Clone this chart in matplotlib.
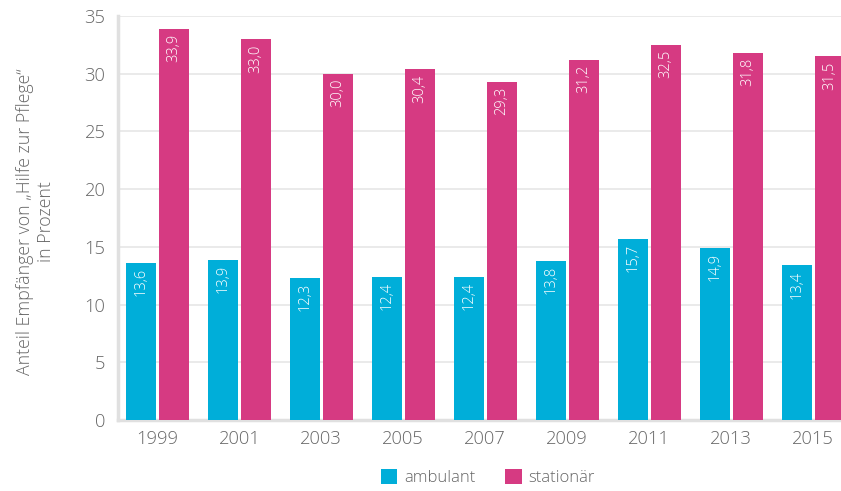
import matplotlib
matplotlib.use('Agg')
import matplotlib.pyplot as plt
import numpy as np

years = ['1999', '2001', '2003', '2005', '2007', '2009', '2011', '2013', '2015']
ambulant = [13.6, 13.9, 12.3, 12.4, 12.4, 13.8, 15.7, 14.9, 13.4]
stationaer = [33.9, 33.0, 30.0, 30.4, 29.3, 31.2, 32.5, 31.8, 31.5]

plt.rcParams['font.family'] = ['Open Sans', 'DejaVu Sans']
plt.rcParams['font.weight'] = 'light'
grey = '#666666'

fig = plt.figure(figsize=(8.41, 4.91), dpi=100)
ax = fig.add_axes([0.1403, 0.1446, 0.8597, 0.8228])

x = np.arange(len(years))
w = 0.366
off = 0.2
b1 = ax.bar(x - off, ambulant, w, color='#00AED9', label='ambulant', zorder=3)
b2 = ax.bar(x + off, stationaer, w, color='#D63A82', label='stationär', zorder=3)

for bars in (b1, b2):
    for b in bars:
        v = b.get_height()
        ax.text(b.get_x() + b.get_width() / 2, v - 0.45, f'{v:.1f}'.replace('.', ','),
                rotation=90, ha='center', va='top', color='white', fontsize=10.5, zorder=4)

ax.set_ylim(0, 35)
ax.set_xlim(-0.48, 8.34)
ax.set_yticks(range(0, 36, 5))
ax.set_xticks(x)
ax.set_xticklabels(years)
ax.tick_params(length=0, labelsize=13.2, colors=grey, pad=7)
ax.tick_params(axis='y', pad=9)
ax.grid(axis='y', color='#e6e6e6', linewidth=1.2, zorder=0)
for s in ('top', 'right'):
    ax.spines[s].set_visible(False)
for s in ('left', 'bottom'):
    ax.spines[s].set_color('#e0e0e0')
    ax.spines[s].set_linewidth(2.5)

fig.text(0.042, 0.548, 'Anteil Empfänger von „Hilfe zur Pflege“\nin Prozent', rotation=90,
         ha='center', va='center', color=grey, fontsize=12.8, linespacing=1.2)

fig.legend(loc='center', bbox_to_anchor=(0.58, 0.027), ncol=2, frameon=False,
           fontsize=12, labelcolor=grey, handlelength=1.0, handleheight=1.0,
           handletextpad=0.4, columnspacing=1.8)

fig.savefig('out.png', dpi=100)
